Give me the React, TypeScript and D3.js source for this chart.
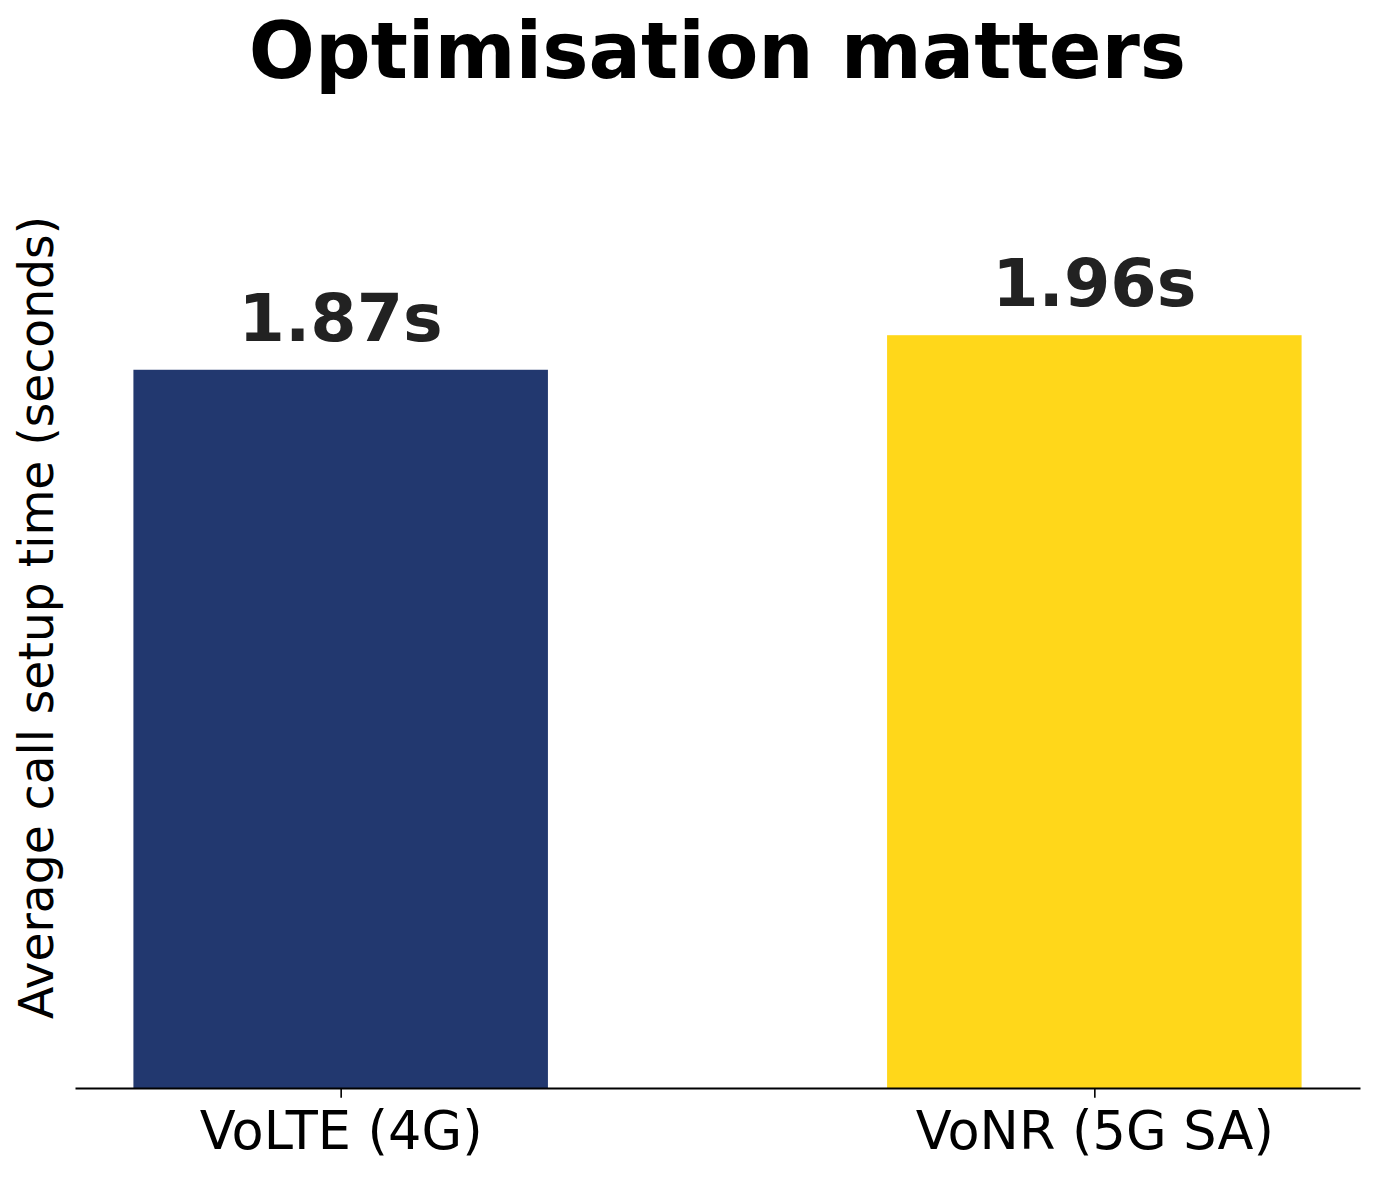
import React, { useEffect, useRef } from 'react';
import * as d3 from 'd3';

const categories = ['VoLTE (4G)', 'VoNR (5G SA)'];
const setupTimes = [1.87, 1.96];
const valueLabels = ['1.87s', '1.96s'];
const barColors = ['#22386f', '#ffd71a'];

const FONT = '"DejaVu Sans", Verdana, sans-serif';

const App: React.FC = () => {
  const svgRef = useRef<SVGSVGElement | null>(null);

  useEffect(() => {
    if (!svgRef.current) return;

    const width = 1380;
    const height = 1180;
    const margin = { top: 147, right: 20, bottom: 92, left: 75 };

    const svg = d3.select(svgRef.current);
    svg.selectAll('*').remove();
    svg.attr('width', width).attr('height', height);

    svg.append('rect').attr('width', width).attr('height', height).attr('fill', '#fff');

    // matplotlib style: bar width 0.55, 5% margins around the data range
    const barWidth = 0.55;
    const lo = -barWidth / 2;
    const hi = categories.length - 1 + barWidth / 2;
    const pad = (hi - lo) * 0.05;

    const x = d3
      .scaleLinear()
      .domain([lo - pad, hi + pad])
      .range([margin.left, width - margin.right]);

    const yMax = (d3.max(setupTimes) as number) * 1.25;
    const y = d3
      .scaleLinear()
      .domain([0, yMax])
      .range([height - margin.bottom, margin.top]);

    const g = svg.append('g');

    // Bars
    g.selectAll('rect.bar')
      .data(setupTimes)
      .enter()
      .append('rect')
      .attr('class', 'bar')
      .attr('x', (_, i) => x(i - barWidth / 2))
      .attr('width', (_, i) => x(i + barWidth / 2) - x(i - barWidth / 2))
      .attr('y', (d) => y(d))
      .attr('height', (d) => y(0) - y(d))
      .attr('fill', (_, i) => barColors[i]);

    // Value labels
    g.selectAll('text.value')
      .data(setupTimes)
      .enter()
      .append('text')
      .attr('class', 'value')
      .attr('x', (_, i) => x(i))
      .attr('y', (d) => y(d) - 29)
      .attr('text-anchor', 'middle')
      .attr('font-family', FONT)
      .attr('font-weight', 'bold')
      .attr('font-size', 66.7)
      .attr('fill', '#222')
      .text((_, i) => valueLabels[i]);

    // X axis
    const xAxis = g
      .append('g')
      .attr('transform', `translate(0, ${y(0)})`)
      .call(
        d3
          .axisBottom(x)
          .tickValues(categories.map((_, i) => i))
          .tickFormat((d) => categories[d as number])
          .tickSizeInner(9.7)
          .tickSizeOuter(0)
          .tickPadding(14)
      );
    xAxis.select('.domain').attr('stroke', '#000').attr('stroke-width', 2);
    xAxis.selectAll('.tick line').attr('stroke', '#000').attr('stroke-width', 1.6);
    xAxis
      .selectAll('.tick text')
      .attr('font-family', FONT)
      .attr('font-size', 52.5)
      .attr('fill', '#000');

    // Y label
    svg
      .append('text')
      .attr('transform', `translate(53, ${(y(0) + y(yMax)) / 2}) rotate(-90)`)
      .attr('text-anchor', 'middle')
      .attr('font-family', FONT)
      .attr('font-size', 47.2)
      .attr('fill', '#000')
      .text('Average call setup time (seconds)');

    // Title
    svg
      .append('text')
      .attr('x', (x.range()[0] + x.range()[1]) / 2)
      .attr('y', 78)
      .attr('text-anchor', 'middle')
      .attr('font-family', FONT)
      .attr('font-weight', 'bold')
      .attr('font-size', 77.8)
      .attr('fill', '#000')
      .text('Optimisation matters');
  }, []);

  return (
    <div style={{ position: 'absolute', left: 0, top: 0 }}>
      <svg ref={svgRef} style={{ display: 'block' }} />
    </div>
  );
};

export default App;
